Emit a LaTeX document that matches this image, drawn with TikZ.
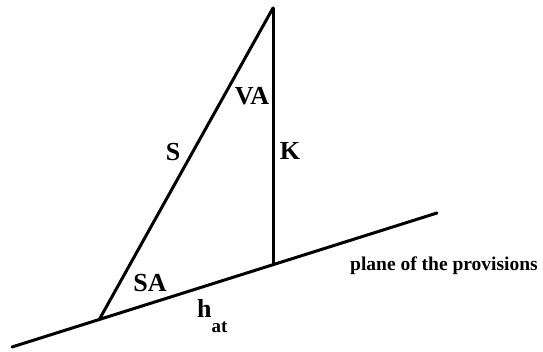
\documentclass[tikz,border=0pt]{standalone}
\usepackage{fontspec}
\setmainfont{Liberation Serif}
\usepackage{tikz}

\tikzset{
  edge/.style={line width=3pt, line cap=round},
  lbl/.style={font=\fontsize{26}{26}\selectfont\bfseries, inner sep=0pt},
}

\begin{document}
\begin{tikzpicture}[x=1pt,y=-1pt]
\useasboundingbox (0,0) rectangle (543,352);
% points
\coordinate (left) at (12,347);
\coordinate (right) at (437,213);
\coordinate (apex) at (273,8);
\coordinate (foot) at (273,264);
\coordinate (slant) at (99,320);
% lines
\draw[edge] (left) -- (right);
\draw[edge] (apex) -- (foot);
\draw[edge] (apex) -- (slant);
% labels
\node[lbl] (va) at (252,96) {VA};
\node[lbl] (k) at (290,151) {K};
\node[lbl] (s) at (173,152) {S};
\node[lbl] (sa) at (150,283) {SA};
\node[lbl, anchor=base west] (hat) at (197,318) {h\raisebox{-15pt}{\fontsize{19}{19}\selectfont at}};
\node[font=\fontsize{19.5}{19.5}\selectfont\bfseries, inner sep=0pt, anchor=west] (plane) at (350,266) {plane of the provisions};
\end{tikzpicture}
\end{document}
